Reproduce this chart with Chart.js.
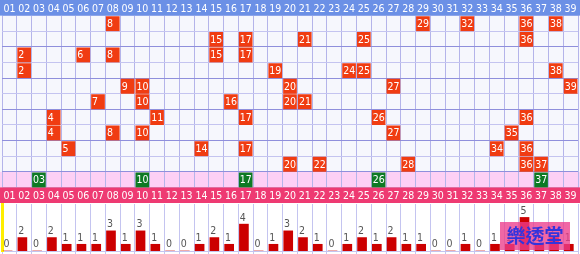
<!DOCTYPE html>
<html lang="zh-Hant">
<head>
<meta charset="UTF-8">
<title>樂透堂</title>
<script src="https://cdn.jsdelivr.net/npm/chart.js"></script>
<style>
  html,body{margin:0;padding:0;background:#fff;}
  #wrap{position:relative;width:580px;height:254px;overflow:hidden;}
  #gridChart{position:absolute;left:0;top:0;}
  #barChart{position:absolute;left:0;top:203px;}
</style>
</head>
<body>
<div id="wrap">
  <canvas id="gridChart" width="580" height="203"></canvas>
  <canvas id="barChart" width="580" height="51"></canvas>
</div>
<script>
// column labels
const balls = ['01','02','03','04','05','06','07','08','09','10','11','12','13',
  '14','15','16','17','18','19','20','21','22','23','24','25','26',
  '27','28','29','30','31','32','33','34','35','36','37','38','39'];

// each draw, top row first
const draws = [
  [8, 29, 32, 36, 38],
  [15, 17, 21, 25, 36],
  [2, 6, 8, 15, 17],
  [2, 19, 24, 25, 38],
  [9, 10, 20, 27, 39],
  [7, 10, 16, 20, 21],
  [4, 11, 17, 26, 36],
  [4, 8, 10, 27, 35],
  [5, 14, 17, 34, 36],
  [20, 22, 28, 36, 37]
];

// green row
const special = [3, 10, 17, 26, 37];

// how many times each number came out (bar row)
const counts = [0,2,0,2,1,1,1,3,1,3,1,0,0,1,2,1,4,0,1,3,2,1,0,1,2,1,2,1,1,0,0,1,0,1,1,5,1,2,1];

const HEAD = 0, FIRST = 1, SPEC = draws.length + 1, FOOT = draws.length + 2, TOTAL = draws.length + 3;
const FONT = '10.5px "DejaVu Sans Condensed", "DejaVu Sans", Verdana, sans-serif';

const redCells = [];
draws.forEach((row, r) => {
  row.forEach(n => redCells.push({x: n - 0.5, y: [FIRST + r, FIRST + r + 1], n: n}));
});
const greenCells = special.map(n => ({x: n - 0.5, y: [SPEC, SPEC + 1], n: n}));

const cellStyle = {
  borderColor: 'rgba(0,0,0,0)',
  borderWidth: {top: 1, bottom: 0, left: 1, right: 1},
  borderSkipped: false,
  barThickness: 15,
  grouped: false
};

const gridPaint = {
  id: 'gridPaint',
  beforeDraw(chart) {
    const {ctx, scales: {y}} = chart;
    ctx.save();
    ctx.fillStyle = '#f6f7fd';
    ctx.fillRect(0, 0, chart.width, chart.height);
    const t = y.getPixelForValue(SPEC), b = y.getPixelForValue(SPEC + 1);
    ctx.fillStyle = '#fdd0f5';
    ctx.fillRect(0, t, chart.width, b - t);
    ctx.restore();
  },
  beforeDatasetsDraw(chart) {
    const {ctx, scales: {x, y}} = chart;
    ctx.save();
    [[HEAD, '#6b90e6'], [FOOT, '#ee3a72']].forEach(([row, color]) => {
      const t = y.getPixelForValue(row), b = y.getPixelForValue(row + 1);
      ctx.fillStyle = color;
      ctx.fillRect(0, t, chart.width, b - t);
      ctx.fillStyle = '#fff';
      ctx.font = FONT;
      ctx.textAlign = 'center';
      ctx.textBaseline = 'middle';
      balls.forEach((lab, i) => {
        ctx.fillText(lab, x.getPixelForValue(i + 0.5), (t + b) / 2 + 1);
      });
    });
    ctx.restore();
  },
  afterDatasetsDraw(chart) {
    const {ctx, scales: {x, y}} = chart;
    ctx.save();
    ctx.fillStyle = '#fff';
    ctx.font = FONT;
    ctx.textAlign = 'left';
    ctx.textBaseline = 'middle';
    redCells.concat(greenCells).forEach(c => {
      const label = c.y[0] === SPEC ? balls[c.n - 1] : String(c.n);
      ctx.fillText(label, x.getPixelForValue(c.n - 1) + 1.5, y.getPixelForValue(c.y[0] + 0.5) + 1);
    });
    ctx.restore();
  }
};

new Chart(document.getElementById('gridChart'), {
  type: 'bar',
  data: {
    datasets: [
      Object.assign({data: redCells, backgroundColor: '#f03c12'}, cellStyle),
      Object.assign({data: greenCells, backgroundColor: '#0d7a24'}, cellStyle)
    ]
  },
  options: {
    responsive: false,
    animation: false,
    events: [],
    layout: {padding: {left: 2, right: 2, top: 0, bottom: 0}},
    plugins: {legend: {display: false}, tooltip: {enabled: false}},
    scales: {
      x: {
        type: 'linear', min: 0, max: 39, offset: false,
        ticks: {display: false, stepSize: 1},
        grid: {color: '#b4b4ea', drawTicks: false, offset: false},
        border: {display: false}
      },
      y: {
        type: 'linear', min: 0, max: TOTAL, reverse: true,
        ticks: {display: false, stepSize: 1},
        grid: {
          drawTicks: false,
          color: c => (c.tick && c.tick.value >= 3 && c.tick.value <= 11 && c.tick.value % 2 === 1) ? '#8f8fdc' : '#c4c4f0'
        },
        border: {display: false}
      }
    }
  },
  plugins: [gridPaint]
});

const barPaint = {
  id: 'barPaint',
  afterDatasetsDraw(chart) {
    const {ctx, scales: {x, y}} = chart;
    ctx.save();
    ctx.fillStyle = '#555';
    ctx.font = FONT;
    ctx.textAlign = 'left';
    ctx.textBaseline = 'bottom';
    counts.forEach((v, i) => {
      ctx.fillText(String(v), x.getPixelForValue(i) + 1.5, y.getPixelForValue(v) - 1);
    });
    ctx.restore();
  },
  afterDraw(chart) {
    // site watermark
    const ctx = chart.ctx;
    ctx.save();
    ctx.fillStyle = 'rgba(236, 60, 140, 0.78)';
    ctx.fillRect(500, 19, 70, 28);
    ctx.fillStyle = '#3434dc';
    ctx.font = 'bold 19px "Noto Sans CJK TC", sans-serif';
    ctx.textAlign = 'center';
    ctx.textBaseline = 'middle';
    ctx.fillText('樂透堂', 535, 33);
    ctx.restore();
  }
};

new Chart(document.getElementById('barChart'), {
  type: 'bar',
  data: {
    datasets: [{
      data: counts.map((v, i) => ({x: i + 0.38, y: v})),
      backgroundColor: '#cc0000',
      barThickness: 9,
      borderWidth: 0
    }]
  },
  options: {
    responsive: false,
    animation: false,
    events: [],
    layout: {padding: {left: 2, right: 2, top: 1, bottom: 0}},
    plugins: {legend: {display: false}, tooltip: {enabled: false}},
    scales: {
      x: {
        type: 'linear', min: 0, max: 39, offset: false,
        ticks: {display: false, stepSize: 1},
        grid: {color: '#c4c4f0', drawTicks: true, tickLength: 3, offset: false},
        border: {color: '#c4c4f0'}
      },
      y: {
        min: 0, max: 7,
        ticks: {display: false},
        grid: {display: false, drawTicks: false},
        border: {color: '#ffee00', width: 3}
      }
    }
  },
  plugins: [barPaint]
});
</script>
</body>
</html>
